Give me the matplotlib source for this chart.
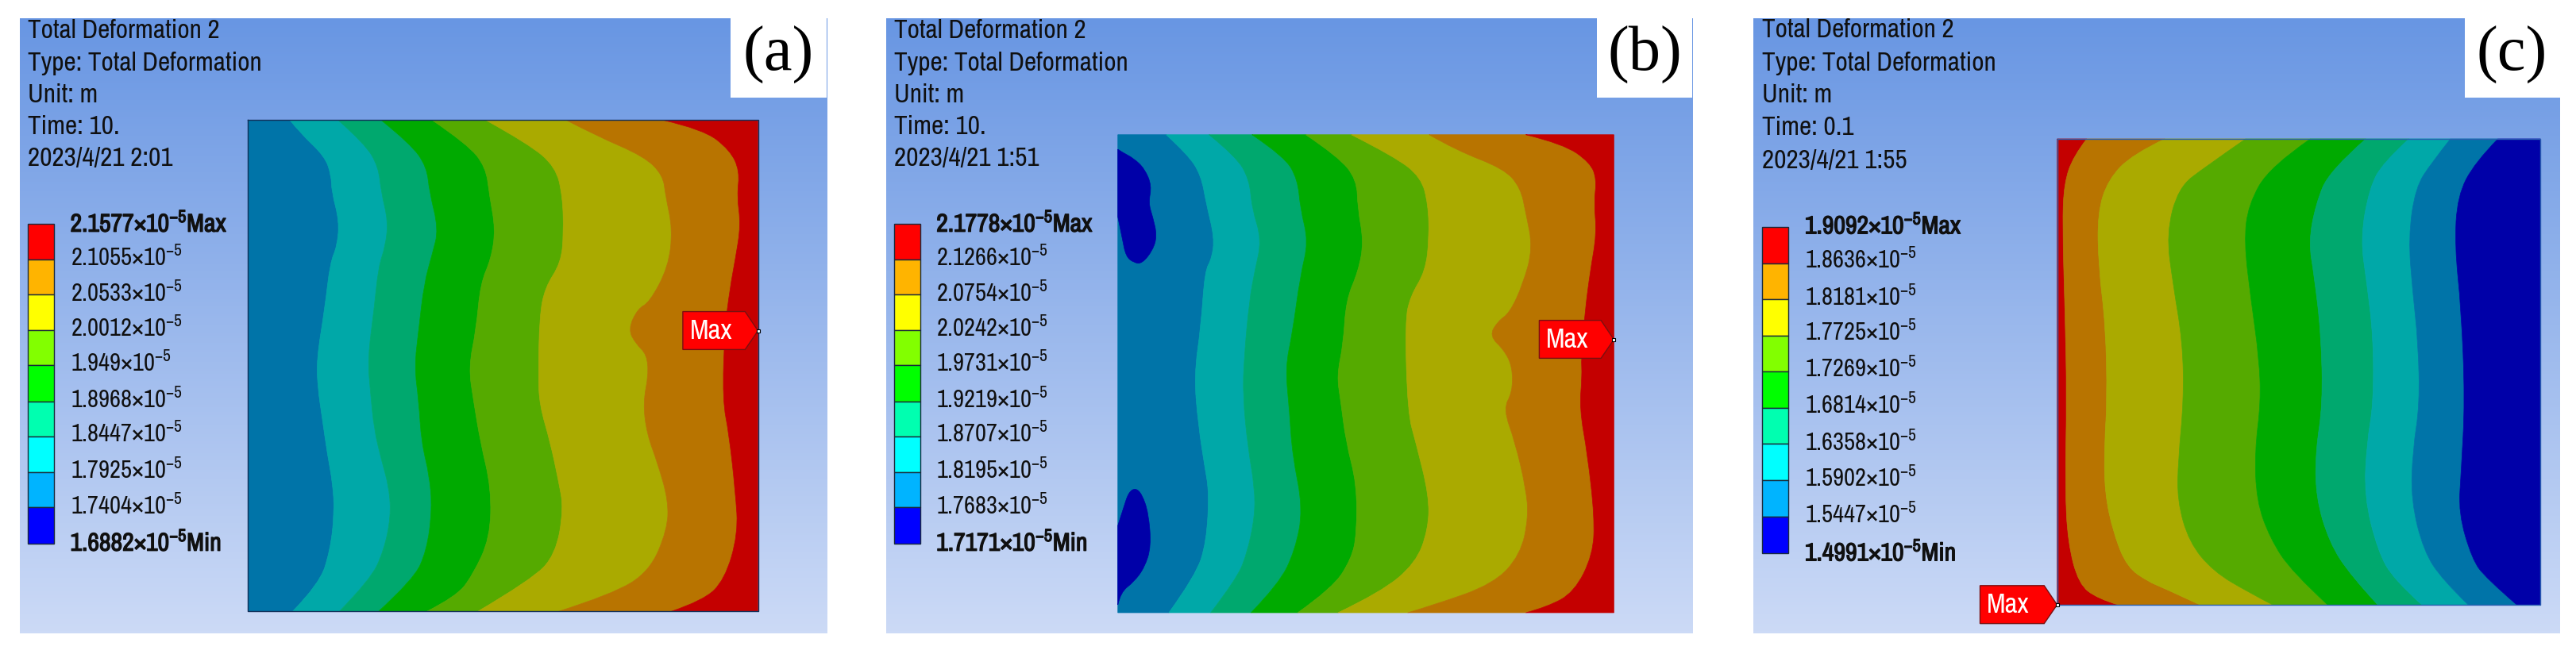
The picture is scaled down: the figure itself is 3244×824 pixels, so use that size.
import numpy as np
import matplotlib
matplotlib.use('Agg')
import matplotlib.pyplot as plt
import matplotlib.patheffects as pe
from matplotlib import font_manager as fm
from matplotlib.colors import LinearSegmentedColormap
from matplotlib.patches import PathPatch
from matplotlib.path import Path

# fuente estrecha, la original esta estirada en vertical
installed = {f.name for f in fm.fontManager.ttflist}
narrow = 'Liberation Sans'
text_size = 20.5
for name in ['Archivo Narrow', 'PT Sans Narrow', 'Roboto Condensed']:
    if name in installed:
        narrow = name
        text_size = 24
        break
plt.rcParams['font.family'] = [narrow, 'Liberation Sans', 'DejaVu Sans']
plt.rcParams['mathtext.default'] = 'regular'

# colores de la barra y de las bandas (rojo -> azul)
legend_colors = ['#FF0000', '#FFB400', '#FFFF00', '#82FF00', '#00FF00',
                 '#00FFB0', '#00FFFF', '#00B4FF', '#0000FF']
band_colors = ['#C40000', '#B87400', '#AAAA00', '#55AA00', '#00AA00',
               '#00A86E', '#00A8A8', '#0074A8', '#0000A8']

# textos
header = ['Total Deformation 2', 'Type: Total Deformation', 'Unit: m']
times = ['Time: 10.', 'Time: 10.', 'Time: 0.1']
dates = ['2023/4/21 2:01', '2023/4/21 1:51', '2023/4/21 1:55']
tags = ['(a)', '(b)', '(c)']

values_a = ['2.1577', '2.1055', '2.0533', '2.0012', '1.949', '1.8968', '1.8447', '1.7925', '1.7404', '1.6882']
values_b = ['2.1778', '2.1266', '2.0754', '2.0242', '1.9731', '1.9219', '1.8707', '1.8195', '1.7683', '1.7171']
values_c = ['1.9092', '1.8636', '1.8181', '1.7725', '1.7269', '1.6814', '1.6358', '1.5902', '1.5447', '1.4991']

# contornos, (x, y) de arriba a abajo, de izquierda a derecha
lines_a = [
    [(540,288),(560,320),(605,375),(617,420),(618,460),(632,530),(628,590),(615,630),(605,740),(590,860),(592,930),(600,1000),(610,1090),(620,1160),(623,1230),(615,1320),(595,1400),(545,1466)],
    [(630,288),(680,345),(705,400),(710,460),(723,530),(718,590),(705,640),(697,740),(685,860),(690,940),(697,1030),(710,1100),(725,1170),(728,1240),(715,1320),(690,1390),(632,1466)],
    [(710,288),(765,345),(795,400),(800,460),(817,550),(805,610),(790,680),(780,790),(772,880),(780,960),(785,1060),(800,1140),(805,1220),(795,1320),(770,1390),(705,1466)],
    [(805,288),(870,345),(905,400),(912,470),(923,550),(915,620),(895,680),(887,790),(873,880),(882,960),(895,1060),(915,1170),(913,1290),(880,1380),(850,1430),(795,1466)],
    [(905,288),(985,345),(1035,400),(1048,470),(1050,560),(1045,630),(1015,690),(1005,760),(1003,900),(1005,970),(1025,1060),(1040,1150),(1050,1220),(1035,1330),(990,1390),(890,1466)],
    [(1055,288),(1110,325),(1200,375),(1235,420),(1240,470),(1253,550),(1245,640),(1210,725),(1188,740),(1170,790),(1185,825),(1205,850),(1208,900),(1198,965),(1205,1040),(1225,1110),(1245,1200),(1243,1270),(1210,1370),(1140,1425),(1040,1466)],
    [(1235,288),(1310,310),(1360,360),(1378,410),(1373,470),(1380,540),(1370,620),(1360,690),(1350,790),(1346,960),(1358,1040),(1370,1180),(1375,1280),(1350,1390),(1310,1440),(1250,1466)],
]
lines_b = [
    [(560,323),(600,370),(625,420),(635,490),(650,570),(645,620),(632,650),(625,780),(612,900),(620,1020),(632,1120),(640,1180),(635,1300),(615,1380),(565,1469)],
    [(640,323),(690,375),(715,430),(720,500),(738,575),(725,650),(715,720),(705,860),(703,950),(712,1070),(725,1170),(725,1240),(710,1330),(690,1390),(643,1469)],
    [(720,323),(780,375),(805,430),(810,500),(825,580),(810,660),(795,800),(782,880),(790,990),(795,1090),(815,1220),(800,1320),(770,1400),(718,1469)],
    [(820,323),(880,375),(915,430),(917,500),(928,580),(918,650),(895,720),(890,825),(878,900),(885,960),(895,1060),(915,1160),(915,1280),(905,1340),(870,1410),(805,1469)],
    [(905,323),(985,375),(1035,425),(1048,490),(1050,570),(1043,650),(1015,710),(1005,770),(1010,990),(1025,1060),(1050,1190),(1048,1270),(1025,1350),(960,1420),(880,1469)],
    [(1050,323),(1100,360),(1190,405),(1220,450),(1230,510),(1243,595),(1225,680),(1200,750),(1178,770),(1162,805),(1190,840),(1205,880),(1205,940),(1188,980),(1210,1060),(1230,1170),(1235,1240),(1220,1330),(1170,1400),(1060,1450),(1010,1469)],
    [(1230,323),(1300,345),(1350,390),(1362,430),(1357,485),(1362,560),(1350,650),(1340,750),(1333,860),(1335,900),(1330,980),(1345,1090),(1358,1240),(1355,1330),(1320,1420),(1270,1455),(1230,1469)],
]
# zonas de minimo en (b)
blobs_b = [
    [(470,358),(478,365),(500,380),(520,405),(533,445),(527,487),(535,520),(543,565),(535,600),(515,632),(500,630),(485,615),(478,570),(470,520)],
    [(470,1450),(475,1420),(500,1395),(520,1360),(532,1310),(527,1230),(515,1185),(503,1170),(490,1180),(480,1220),(470,1260)],
]
lines_c = [
    [(660,333),(635,375),(618,440),(615,540),(620,760),(623,950),(620,1170),(625,1300),(645,1400),(680,1435),(718,1450)],
    [(805,333),(745,370),(700,430),(680,510),(682,640),(695,780),(698,960),(693,1060),(693,1180),(710,1280),(735,1360),(775,1395),(800,1408),(870,1450)],
    [(955,333),(880,400),(830,450),(808,560),(820,680),(838,820),(840,960),(830,1100),(828,1200),(850,1300),(895,1370),(960,1420),(1005,1450)],
    [(1075,333),(1000,400),(960,490),(952,580),(965,720),(980,860),(983,965),(972,1080),(975,1200),(1000,1290),(1040,1370),(1107,1450)],
    [(1178,333),(1110,410),(1085,490),(1072,580),(1082,660),(1095,800),(1098,970),(1085,1080),(1085,1190),(1110,1300),(1150,1380),(1200,1450)],
    [(1258,333),(1210,390),(1185,450),(1168,570),(1180,680),(1192,810),(1192,970),(1180,1060),(1175,1190),(1200,1320),(1230,1390),(1282,1450)],
    [(1335,333),(1300,390),(1270,450),(1257,570),(1265,700),(1275,820),(1278,970),(1265,1080),(1262,1200),(1285,1320),(1320,1390),(1368,1450)],
    [(1423,333),(1380,390),(1348,470),(1343,590),(1355,740),(1362,960),(1355,1130),(1350,1230),(1375,1340),(1400,1385),(1458,1450)],
]

W, H = 3244, 824
U = 1568  # unidades del zoom
bg_cmap = LinearSegmentedColormap.from_list('fondo', ['#6896E3', '#CCDAF6'])
fig = plt.figure(figsize=(W / 100, H / 100), dpi=100, facecolor='white')


def curve_segments(pts):
    # bezier cuadraticas con los puntos leidos como control, para que no salga a tramos
    pts = np.array(pts, dtype=float)
    verts, codes = [], []
    for i in range(1, len(pts) - 1):
        end = pts[i + 1] if i == len(pts) - 2 else (pts[i] + pts[i + 1]) / 2
        verts += [pts[i], end]
        codes += [Path.CURVE3, Path.CURVE3]
    if len(pts) == 2:
        verts.append(pts[1])
        codes.append(Path.LINETO)
    return verts, codes


def band_path(left, right):
    v1, c1 = curve_segments(left)
    v2, c2 = curve_segments(right[::-1])
    verts = [left[0]] + v1 + [right[-1]] + v2 + [left[0]]
    codes = [Path.MOVETO] + c1 + [Path.LINETO] + c2 + [Path.LINETO]
    return Path(verts, codes)


def draw_panel(x_px, w_px, bg_x, box_x, rect, lines, colors, values, time, date, tag,
               text_x, text_y, bar_x, bar_y, label_x, label_y, max_tip, max_left, blobs=None, edge=None):
    ax = fig.add_axes([x_px / W, 0, w_px / W, 1])
    grad = np.linspace(0, 1, 256).reshape(-1, 1)
    ax.imshow(grad, cmap=bg_cmap, extent=(bg_x[0], bg_x[1], 1518, 44), aspect='auto', zorder=0)
    ax.set_xlim(0, U)
    ax.set_ylim(U, 0)
    ax.axis('off')
    ax.fill([box_x, bg_x[1], bg_x[1], box_x], [40, 40, 235, 235], color='white', lw=0, zorder=1)

    # bandas
    x0, x1, y0, y1 = rect
    bounds = [[(x0, y0), (x0, y1)]] + lines + [[(x1, y0), (x1, y1)]]
    for i, col in enumerate(colors):
        ax.add_patch(PathPatch(band_path(bounds[i], bounds[i + 1]), facecolor=col, edgecolor=col, lw=0.5, zorder=2))
    if blobs:
        for blob in blobs:
            ax.add_patch(PathPatch(band_path(blob, [blob[0], blob[0]]), facecolor=band_colors[-1],
                                   edgecolor=band_colors[-1], lw=0.5, zorder=3))
    if edge:
        ax.plot([x0, x1, x1, x0, x0], [y0, y0, y1, y1, y0], color=edge, lw=1, zorder=4)

    # textos de cabecera
    lines_txt = header + [time, date]
    for yy, s in zip(text_y, lines_txt):
        ax.text(text_x, yy, s, fontsize=text_size, va='center', ha='left', color='#101010', zorder=5)
    ax.text((box_x + bg_x[1]) / 2, 132, tag, fontsize=58, family='Liberation Serif',
            ha='center', va='center', color='black', zorder=5)

    # barra de colores
    for i, col in enumerate(legend_colors):
        ax.fill([bar_x[0], bar_x[1], bar_x[1], bar_x[0]],
                [bar_y[i], bar_y[i], bar_y[i + 1], bar_y[i + 1]],
                facecolor=col, edgecolor='#1a2a3a', lw=1, zorder=5)
    for i, val in enumerate(values):
        if i == 0 or i == len(values) - 1:
            end = 'Max' if i == 0 else 'Min'
            # la variable no trae negrita, se engorda con un trazo
            ax.text(label_x, label_y[i], val + '×10$^{-5}$' + end, fontsize=text_size - 1, weight='bold',
                    va='center', ha='left', color='#101010', zorder=5,
                    path_effects=[pe.withStroke(linewidth=0.9, foreground='#101010')])
        else:
            ax.text(label_x, label_y[i], val + '×10$^{-5}$', fontsize=text_size - 2,
                    va='center', ha='left', color='#101010', zorder=5)

    # etiqueta Max
    tx, ty = max_tip
    px = [max_left, tx - 24, tx, tx - 24, max_left]
    py = [ty - 46, ty - 46, ty, ty + 45, ty + 45]
    ax.fill(px, py, facecolor='#FF0000', edgecolor='#7a1010', lw=1, zorder=6)
    ax.plot([tx], [ty], marker='s', ms=3, mfc='white', mec='black', mew=0.8, zorder=7)
    ax.text(max_left + 13, ty, 'Max', color='white', fontsize=text_size + 1, va='center', ha='left', zorder=7)


text_y_ab = [75, 152, 228, 305, 380]
text_y_c = [72, 152, 229, 307, 386]
bar_y_ab = [537, 622, 706, 792, 876, 962, 1047, 1132, 1216, 1303]
bar_y_c = [544, 632, 717, 805, 891, 978, 1064, 1152, 1238, 1327]
label_y_ab = [535, 618, 702, 787, 871, 958, 1040, 1127, 1213, 1300]
label_y_c = [540, 622, 712, 797, 884, 972, 1060, 1146, 1234, 1324]

draw_panel(0, 1060, (37, 1540), 1361, (462, 1412, 288, 1466), lines_a, band_colors[::-1][1:],
           values_a, times[0], dates[0], tags[0], 52, text_y_ab, (52, 101), bar_y_ab, 131, label_y_ab,
           (1412, 793), 1272, edge='#12305a')
draw_panel(1090, 1060, (38, 1540), 1363, (470, 1394, 323, 1469), lines_b, band_colors[::-1][1:],
           values_b, times[1], dates[1], tags[1], 53, text_y_ab, (53, 102), bar_y_ab, 132, label_y_ab,
           (1394, 814), 1255, blobs=blobs_b)
draw_panel(2180, 1064, (41, 1538), 1361, (605, 1502, 333, 1450), lines_c, band_colors,
           values_c, times[2], dates[2], tags[2], 58, text_y_c, (57, 106), bar_y_c, 137, label_y_c,
           (605, 1450), 462, edge='#2a5fb0')

fig.savefig('out.png', dpi=100)
